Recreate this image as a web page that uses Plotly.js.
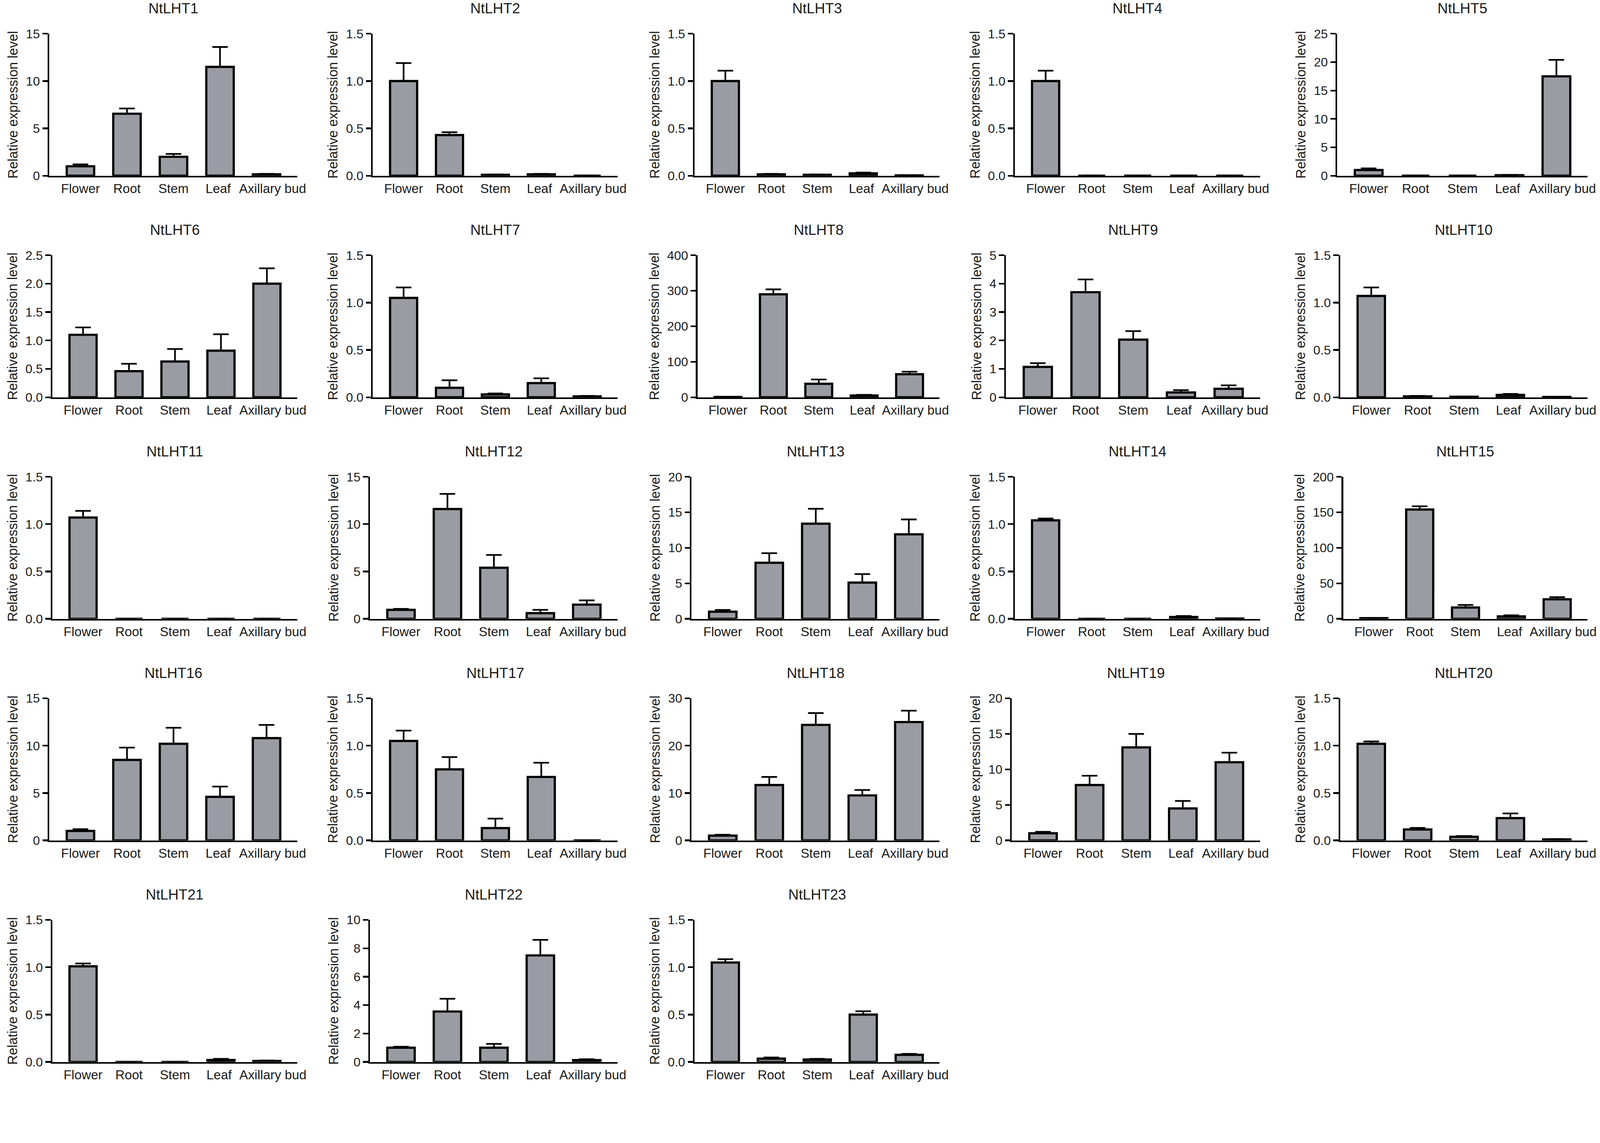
<!DOCTYPE html>
<html>
<head>
<meta charset="utf-8">
<script src="https://cdn.plot.ly/plotly-3.0.1.min.js"></script>
<style>
  html, body { margin: 0; padding: 0; background: #ffffff; overflow: hidden; }
  #chart { position: absolute; left: 0; top: 0; }
</style>
</head>
<body>
<div id="chart"></div>
<script>
// ---------------- DATA ----------------
const categories = ['Flower', 'Root', 'Stem', 'Leaf', 'Axillary bud'];
const genes = ['NtLHT1','NtLHT2','NtLHT3','NtLHT4','NtLHT5',
               'NtLHT6','NtLHT7','NtLHT8','NtLHT9','NtLHT10',
               'NtLHT11','NtLHT12','NtLHT13','NtLHT14','NtLHT15',
               'NtLHT16','NtLHT17','NtLHT18','NtLHT19','NtLHT20',
               'NtLHT21','NtLHT22','NtLHT23'];
const yMax  = [15, 1.5, 1.5, 1.5, 25,  2.5, 1.5, 400, 5, 1.5,  1.5, 15, 20, 1.5, 200,  15, 1.5, 30, 20, 1.5,  1.5, 10, 1.5];
const yStep = [5, 0.5, 0.5, 0.5, 5,   0.5, 0.5, 100, 1, 0.5,  0.5, 5, 5, 0.5, 50,     5, 0.5, 10, 5, 0.5,    0.5, 2, 0.5];

const mean_NtLHT1  = [1.0, 6.55, 2.0, 11.5, 0.15];
const sem_NtLHT1   = [0.2, 0.55, 0.3, 2.1, 0.05];
const mean_NtLHT2  = [1.0, 0.43, 0.01, 0.015, 0.0];
const sem_NtLHT2   = [0.19, 0.03, 0.003, 0.005, 0.0];
const mean_NtLHT3  = [1.0, 0.015, 0.01, 0.025, 0.003];
const sem_NtLHT3   = [0.11, 0.005, 0.003, 0.008, 0.001];
const mean_NtLHT4  = [1.0, 0.0, 0.0, 0.0, 0.0];
const sem_NtLHT4   = [0.11, 0.0, 0.0, 0.0, 0.0];
const mean_NtLHT5  = [1.0, 0.0, 0.0, 0.1, 17.5];
const sem_NtLHT5   = [0.3, 0.0, 0.0, 0.05, 2.9];
const mean_NtLHT6  = [1.1, 0.46, 0.63, 0.82, 2.0];
const sem_NtLHT6   = [0.13, 0.13, 0.22, 0.29, 0.27];
const mean_NtLHT7  = [1.05, 0.1, 0.03, 0.15, 0.01];
const sem_NtLHT7   = [0.11, 0.08, 0.01, 0.05, 0.005];
const mean_NtLHT8  = [1.0, 290, 38, 5, 65];
const sem_NtLHT8   = [0.2, 14, 12, 2, 7];
const mean_NtLHT9  = [1.07, 3.7, 2.03, 0.17, 0.3];
const sem_NtLHT9   = [0.13, 0.45, 0.3, 0.08, 0.12];
const mean_NtLHT10 = [1.07, 0.01, 0.005, 0.025, 0.003];
const sem_NtLHT10  = [0.09, 0.005, 0.002, 0.01, 0.001];
const mean_NtLHT11 = [1.07, 0.0, 0.0, 0.0, 0.0];
const sem_NtLHT11  = [0.07, 0.0, 0.0, 0.0, 0.0];
const mean_NtLHT12 = [0.95, 11.6, 5.4, 0.6, 1.5];
const sem_NtLHT12  = [0.1, 1.6, 1.35, 0.35, 0.45];
const mean_NtLHT13 = [1.0, 7.9, 13.4, 5.1, 11.9];
const sem_NtLHT13  = [0.25, 1.35, 2.1, 1.2, 2.1];
const mean_NtLHT14 = [1.04, 0.0, 0.0, 0.02, 0.003];
const sem_NtLHT14  = [0.02, 0.0, 0.0, 0.01, 0.001];
const mean_NtLHT15 = [1.0, 154, 16, 3.5, 27.5];
const sem_NtLHT15  = [0.1, 4.5, 3.5, 1.5, 3.0];
const mean_NtLHT16 = [1.0, 8.5, 10.2, 4.6, 10.8];
const sem_NtLHT16  = [0.18, 1.3, 1.7, 1.08, 1.4];
const mean_NtLHT17 = [1.05, 0.75, 0.13, 0.67, 0.0];
const sem_NtLHT17  = [0.11, 0.13, 0.1, 0.15, 0.0];
const mean_NtLHT18 = [1.0, 11.7, 24.4, 9.5, 25.0];
const sem_NtLHT18  = [0.2, 1.7, 2.5, 1.15, 2.4];
const mean_NtLHT19 = [1.0, 7.8, 13.1, 4.5, 11.0];
const sem_NtLHT19  = [0.2, 1.3, 1.9, 1.05, 1.35];
const mean_NtLHT20 = [1.02, 0.115, 0.038, 0.235, 0.01];
const sem_NtLHT20  = [0.025, 0.017, 0.008, 0.05, 0.004];
const mean_NtLHT21 = [1.01, 0.0, 0.0, 0.02, 0.01];
const sem_NtLHT21  = [0.03, 0.0, 0.0, 0.012, 0.005];
const mean_NtLHT22 = [1.0, 3.55, 1.0, 7.5, 0.13];
const sem_NtLHT22  = [0.07, 0.9, 0.27, 1.1, 0.06];
const mean_NtLHT23 = [1.05, 0.035, 0.025, 0.5, 0.075];
const sem_NtLHT23  = [0.035, 0.012, 0.007, 0.035, 0.01];

const means = [mean_NtLHT1, mean_NtLHT2, mean_NtLHT3, mean_NtLHT4, mean_NtLHT5,
               mean_NtLHT6, mean_NtLHT7, mean_NtLHT8, mean_NtLHT9, mean_NtLHT10,
               mean_NtLHT11, mean_NtLHT12, mean_NtLHT13, mean_NtLHT14, mean_NtLHT15,
               mean_NtLHT16, mean_NtLHT17, mean_NtLHT18, mean_NtLHT19, mean_NtLHT20,
               mean_NtLHT21, mean_NtLHT22, mean_NtLHT23];
const sems  = [sem_NtLHT1, sem_NtLHT2, sem_NtLHT3, sem_NtLHT4, sem_NtLHT5,
               sem_NtLHT6, sem_NtLHT7, sem_NtLHT8, sem_NtLHT9, sem_NtLHT10,
               sem_NtLHT11, sem_NtLHT12, sem_NtLHT13, sem_NtLHT14, sem_NtLHT15,
               sem_NtLHT16, sem_NtLHT17, sem_NtLHT18, sem_NtLHT19, sem_NtLHT20,
               sem_NtLHT21, sem_NtLHT22, sem_NtLHT23];

// ---------------- LAYOUT GEOMETRY (reference frame 4317 x 2925) ----------------
const W0 = 4317, H0 = 2925;
const vw = document.documentElement.clientWidth || window.innerWidth || W0;
const vh = document.documentElement.clientHeight || window.innerHeight || H0;
const S = Math.min(vw / W0, vh / H0);          // scale reference pixels to the viewport
const W = Math.floor(W0 * S), H = Math.floor(H0 * S);
const px = v => v * S;

const FONT = '"Liberation Sans", Arial, Helvetica, sans-serif';
const TXT = '#1a1a1a';
const BAR = '#9b9ba4';

const rowTop0 = 91, rowPitch = 597.6, plotH = 383;
const colEnd  = [802, 1666, 2535, 3400, 4283];
const colRef  = [141, 1006, 1874, 2738, 3616];   // y-axis x when widest tick text is "1.5"
// small label nudges so "Leaf" and "Axillary bud" do not touch (as in the reference)
const labelNudge = [0, 0, 0, -0.04, 0.13];

function textEm(s) {
  let w = 0;
  for (const c of s) w += (c === '.') ? 0.278 : 0.556;
  return w;
}
function fmtTick(v, step) { return step < 1 ? v.toFixed(1) : String(v); }

const chartDiv = document.getElementById('chart');
chartDiv.style.width = W + 'px';
chartDiv.style.height = H + 'px';

const catIndex = categories.map((_, k) => k);

const data = [];
const layout = {
  width: W, height: H,
  margin: {l: 0, r: 0, t: 0, b: 0},
  paper_bgcolor: '#ffffff',
  plot_bgcolor: '#ffffff',
  showlegend: false,
  font: {family: FONT, color: TXT},
  annotations: []
};

genes.forEach((g, i) => {
  const r = Math.floor(i / 5), c = i % 5;
  const n = i + 1;
  const xa = n === 1 ? 'xaxis' : 'xaxis' + n;
  const ya = n === 1 ? 'yaxis' : 'yaxis' + n;
  const xr = n === 1 ? 'x' : 'x' + n;
  const yr = n === 1 ? 'y' : 'y' + n;

  const top = rowTop0 + r * rowPitch;
  const bottom = top + plotH;
  const maxText = fmtTick(yMax[i], yStep[i]);
  const axisX = colRef[c] + (textEm(maxText) - textEm('1.5')) * 34 * 0.85;

  data.push({
    type: 'bar',
    x: catIndex,
    y: means[i],
    text: categories,
    textposition: 'none',
    xaxis: xr, yaxis: yr,
    width: 0.59,
    marker: {color: BAR, line: {color: '#000000', width: px(6)}},
    error_y: {
      type: 'data', symmetric: false,
      array: sems[i],
      arrayminus: sems[i].map(() => 0),
      color: '#000000', thickness: px(4.5), width: px(21)
    },
    hoverinfo: 'none'
  });

  layout[xa] = {
    domain: [axisX / W0, colEnd[c] / W0],
    anchor: yr,
    type: 'linear',
    range: [-0.67, 4.66],
    tickmode: 'array',
    tickvals: catIndex.map((k) => k + labelNudge[k]),
    ticktext: categories,
    showline: true, linecolor: '#000000', linewidth: px(5),
    ticks: '', showgrid: false, zeroline: false,
    tickangle: 0,
    tickfont: {family: FONT, size: px(35), color: TXT},
    fixedrange: true
  };
  layout[ya] = {
    domain: [1 - bottom / H0, 1 - top / H0],
    anchor: xr,
    range: [0, yMax[i]],
    tickmode: 'linear', tick0: 0, dtick: yStep[i],
    tickformat: yStep[i] < 1 ? '.1f' : 'd',
    showline: true, linecolor: '#000000', linewidth: px(4.5),
    ticks: 'outside', ticklen: px(14), tickwidth: px(4.5), tickcolor: '#000000',
    showgrid: false, zeroline: false,
    tickfont: {family: FONT, size: px(34), color: TXT},
    title: {text: 'Relative expression level', font: {family: FONT, size: px(36), color: TXT}, standoff: px(12)},
    fixedrange: true
  };
  layout.annotations.push({
    text: g,
    xref: xr + ' domain', yref: yr + ' domain',
    x: 0.5, y: 1, yshift: px(68),
    xanchor: 'center', yanchor: 'middle',
    showarrow: false,
    font: {family: FONT, size: px(39), color: TXT}
  });
});

Plotly.newPlot('chart', data, layout, {staticPlot: true, displayModeBar: false});
</script>
</body>
</html>
